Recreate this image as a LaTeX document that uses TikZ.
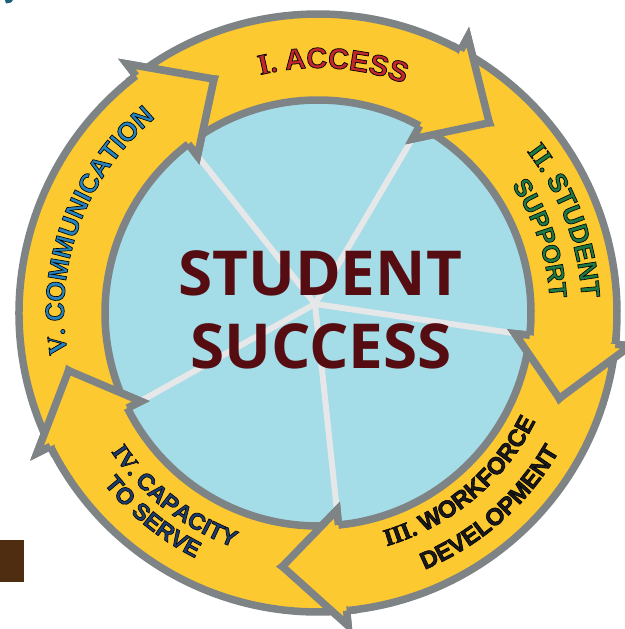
\documentclass[tikz,border=0pt]{standalone}
\usepackage{fontspec}
\usetikzlibrary{decorations.text}
\newfontfamily\ssfont{Open Sans}
\newfontfamily\lblfont{Liberation Sans}[BoldFeatures={FakeBold=2.5}]
\newfontfamily\numfont{Liberation Serif}[BoldFeatures={FakeBold=2.5}]
\definecolor{ringyel}{HTML}{FDC930}
\definecolor{ringgray}{HTML}{7E8385}
\definecolor{discblue}{HTML}{A4DCE7}
\definecolor{spokegray}{HTML}{E6E7E8}
\definecolor{ssmaroon}{HTML}{560D12}
\definecolor{lblred}{HTML}{C1272D}
\definecolor{lblgreen}{HTML}{1D7A45}
\definecolor{lblblack}{HTML}{1A1A1A}
\definecolor{lblnavy}{HTML}{1C3C6E}
\definecolor{lblblue}{HTML}{2584BF}
\definecolor{tealblob}{HTML}{1C5F78}
\definecolor{brownbox}{HTML}{4F2D10}
% fill colour set by \color, black stroke for the outline
\newcommand\numfmt[2]{\numfont\bfseries\fontsize{#1}{#1}\selectfont\color{#2}\special{pdf:code 0 0 0 RG}}
\newcommand\wrdfmt[2]{\lblfont\bfseries\fontsize{#1}{#1}\selectfont\color{#2}\special{pdf:code 0 0 0 RG}}
% radius, start angle, end angle, text
\newcommand\ringtext[4]{%
  \path[decorate,decoration={text along path,text align=center,text={#4}}]
    (#2:#1pt) arc[start angle=#2,end angle=#3,radius=#1pt];}
% tail angle, barb angle, tip angle, previous tip angle
\newcommand\ringarrow[4]{%
  \path[arrowbody] (#1:299pt) arc[start angle=#1,end angle=#2,radius=299pt]
    -- (#2:314pt) -- (#3:256pt) -- (#2:198pt) -- (#2:213pt)
    arc[start angle=#2,end angle=#1,radius=213pt] -- (#4:256pt) -- cycle;}
% barb angle, tip angle
\newcommand\ringhead[2]{%
  \fill[ringyel] (#1:299pt) -- (#1:314pt) -- (#2:256pt) -- (#1:198pt) -- (#1:213pt) -- cycle;
  \draw[outl] (#1:299pt) -- (#1:314pt) -- (#2:256pt) -- (#1:198pt) -- (#1:213pt);}
\begin{document}
\begin{tikzpicture}[x=1pt,y=1pt,
  outl/.style={draw=ringgray,line width=7.5pt,line join=miter,miter limit=10},
  arrowbody/.style={fill=ringyel,outl},
  spoke/.style={draw=spokegray,line width=6pt},
  ctext/.style={anchor=base,text=ssmaroon,font=\ssfont\bfseries\fontsize{62}{62}\selectfont,inner sep=0pt}]
\useasboundingbox (-318,-316) rectangle (306,313);
% corner marks
\fill[tealblob] (-313,313) -- (-305,313) -- (-307,310.5) -- (-312,309.5) -- cycle;
\fill[brownbox] (-318,-227) rectangle (-294,-269);
% disc
\fill[discblue] (0,0) circle[radius=213pt];
\coordinate (hub) at (-3,9);
\foreach \b in {127.5,61.5,-6,-84.5,-153.5}
  \draw[spoke] (hub) -- (\b:206pt);
% arrows
\ringarrow{127.5}{61.5}{48}{114}
\ringarrow{61.5}{-6}{-19.5}{48}
\ringarrow{-6}{-84.5}{-98}{-19.5}
\ringarrow{-84.5}{-153.5}{-167}{-98}
\ringarrow{-153.5}{-232.5}{-246}{-167}
\ringhead{61.5}{48}
\ringhead{-6}{-19.5}
\ringhead{-84.5}{-98}
\ringhead{-153.5}{-167}
\ringhead{-232.5}{-246}
% labels
\ringtext{245}{146.5}{26.5}{|\numfmt{29}{lblred}|I. |\wrdfmt{29}{lblred}|ACCESS}
\ringtext{264}{80.5}{-39.5}{|\numfmt{26.5}{lblgreen}|II. |\wrdfmt{26.5}{lblgreen}|STUDENT}
\ringtext{232}{78.5}{-41.5}{|\wrdfmt{25}{lblgreen}|SUPPORT}
\ringtext{243}{-110}{10}{|\numfmt{24}{lblblack}|III. |\wrdfmt{24}{lblblack}|WORKFORCE}
\ringtext{278}{-108.6}{11.4}{|\wrdfmt{24}{lblblack}|DEVELOPMENT}
\ringtext{249}{172}{292}{|\numfmt{23.5}{lblnavy}|IV. |\wrdfmt{23.5}{lblnavy}|CAPACITY}
\ringtext{274}{171}{291}{|\wrdfmt{23.5}{lblnavy}|TO SERVE}
\ringtext{254}{219.5}{99.5}{|\numfmt{26.5}{lblblue}|V. |\wrdfmt{26.5}{lblblue}|COMMUNICATION}
% centre title
\node[ctext] (stu) at (2,18) {STUDENT};
\node[ctext] (suc) at (3,-55) {SUCCESS};
\end{tikzpicture}
\end{document}
